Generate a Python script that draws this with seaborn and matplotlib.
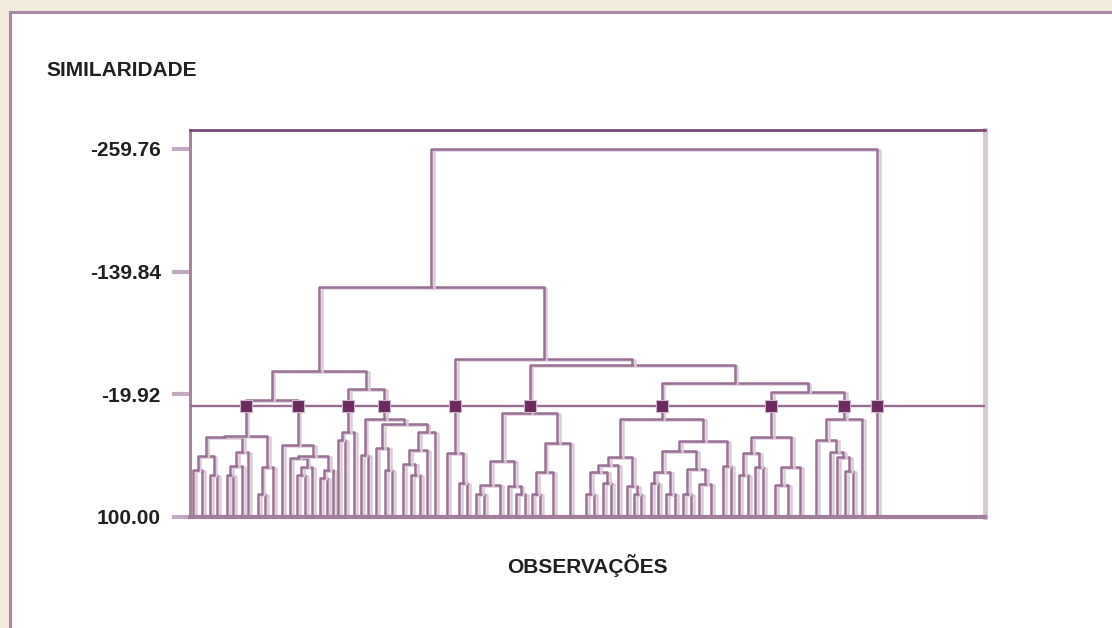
"Dendrograma de similaridade das observações"

import matplotlib
matplotlib.use('Agg')
import pandas as pd
import matplotlib.pyplot as plt
import matplotlib.patheffects as pe
from matplotlib.patches import Rectangle
import seaborn as sns

sns.set_style('white')
plt.rcParams['font.family'] = ['Liberation Sans', 'DejaVu Sans']

leaf_x = [3, 12, 20, 27, 37, 43, 52, 58, 68, 75, 83,          # grupo 1
          92, 100, 107, 115, 122, 130, 137, 143,              # grupo 2
          148, 155, 164,                                      # grupo 3
          171, 178, 186, 195, 202, 213, 221, 230, 237, 245,   # grupo 4
          257, 269, 277,                                      # grupo 5
          286, 294, 310, 318, 326, 335, 342, 350, 363, 380,   # grupo 6
          396, 404, 413, 421, 428, 437, 444, 451, 461, 468,
          476, 485, 493, 501, 509, 521, 533, 541,             # grupo 7
          549, 558, 565, 573, 585, 598, 610,                  # grupo 8
          626, 640, 647, 655, 663, 672,                       # grupo 9
          687]                                                # grupo 10

y_ticks = [-259.76, -139.84, -19.92, 100.00]
cut_level = -8.5

o = None  # a single observation
# node = (similarity, left, right)
g1 = (20.8, (21.8, (40.4, (54.1, o, o), (58.9, o, o)),
             (36.5, (50.1, (58.9, o, o), o), o)),
      (51.1, (77.5, o, o), o))
g2 = (29.6, o, (40.4, (42.3, o, (51.1, (58.9, o, o), o)),
                (54.1, (62.0, o, o), o)))
g3 = (16.9, (24.7, o, o), o)
g4 = (4.2, (39.4, o, o),
      (9.1, (32.5, o, (54.1, o, o)),
       (16.9, (34.5, (48.2, o, (58.9, o, o)), o), o)))
g5 = (37.4, o, (66.8, o, o))
g6 = (-1.7, (45.3, (68.7, (77.5, o, o), o), (69.7, o, (77.5, o, o))),
      (27.7, (56.0, (77.5, o, o), o), o))
g7 = (4.2, (41.3, (49.2, (56.0, (77.5, o, o), (66.8, o, o)), o),
            (69.7, o, (77.5, o, o))),
      (25.7, (35.5, (56.0, (66.8, o, o), (77.5, o, o)),
              (53.1, (77.5, o, o), (67.8, o, o))),
       (50.1, o, o)))
g8 = (21.8, (37.4, (58.9, o, o), (51.1, o, o)), (51.1, (68.7, o, o), o))
g9 = (4.2, (24.7, o, (36.5, o, (41.3, o, (55.0, o, o)))), o)
g10 = o

groups = [g1, g2, g3, g4, g5, g6, g7, g8, g9, g10]
G = {i: ('grupo', g) for i, g in enumerate(groups)}

tree = (-259.76,
        (-124.8,
         (-42.7, (-14.4, G[0], G[1]), (-25.1, G[2], G[3])),
         (-54.5, G[4], (-48.6, G[5], (-31.0, G[6], (-22.2, G[7], G[8]))))),
        G[9])

rows = []
group_x = []
leaves = iter(leaf_x)


def walk(node):
    if node is None:
        return next(leaves), 100.0
    if node[0] == 'grupo':
        x, h = walk(node[1])
        group_x.append(x)
        return x, h
    h, a, b = node
    xa, ha = walk(a)
    xb, hb = walk(b)
    k = len(rows)
    for px, py in [(xa, ha), (xa, h), (xb, h), (xb, hb)]:
        rows.append({'x': px, 'y': py, 'seg': k})
    return (xa + xb) / 2, h


walk(tree)
df = pd.DataFrame(rows)

fig = plt.figure(figsize=(11.12, 6.28), dpi=100, facecolor='#f3ebdd')
fig.patches.append(Rectangle((10 / 1112, -0.1), 1.2, 1 - 12 / 628 + 0.1,
                             transform=fig.transFigure, facecolor='white',
                             edgecolor='#a988a5', lw=2.2, zorder=-5))
ax = fig.add_axes([190 / 1112, 111 / 628, 795 / 1112, 387 / 628])
ax.set_facecolor('white')

sns.lineplot(data=df, x='x', y='y', units='seg', estimator=None, sort=False,
             color='#9a7195', lw=1.8, ax=ax)
for ln in ax.lines:
    ln.set_path_effects([pe.SimpleLineShadow(offset=(2, -0.8), shadow_color='#dacbd8',
                                             alpha=1), pe.Normal()])

ax.axhline(cut_level, color='#986d91', lw=1.7, zorder=3)
sns.scatterplot(x=group_x, y=[cut_level] * len(group_x), marker='s', s=75,
                color='#6b2b5e', edgecolor='#cdb6c9', linewidth=0.8, zorder=5, ax=ax)

ax.set_xlim(0, 795)
ax.set_ylim(100, -278.3)
ax.set_yticks(y_ticks)
ax.set_yticklabels([f'{v:.2f}' for v in y_ticks], fontsize=15, fontweight='bold',
                   color='#231f20')
ax.set_xticks([])
ax.tick_params(axis='y', direction='out', length=13, width=3, color='#c4aac0',
               pad=8, left=True)
ax.set_xlabel('')
ax.set_ylabel('')

for side, col, w in [('top', '#7b4d74', 2), ('left', '#a584a0', 2.2),
                     ('right', '#d6c7d4', 3.5), ('bottom', '#a07e9c', 3)]:
    ax.spines[side].set_visible(True)
    ax.spines[side].set_color(col)
    ax.spines[side].set_linewidth(w)

fig.text(46 / 1112, 1 - 71 / 628, 'SIMILARIDADE', ha='left', va='center',
         fontsize=15, fontweight='bold', color='#231f20')
fig.text(587 / 1112, 1 - 566 / 628, 'OBSERVAÇÕES', ha='center', va='center',
         fontsize=15, fontweight='bold', color='#231f20')

fig.savefig('out.png', dpi=100, facecolor=fig.get_facecolor())
